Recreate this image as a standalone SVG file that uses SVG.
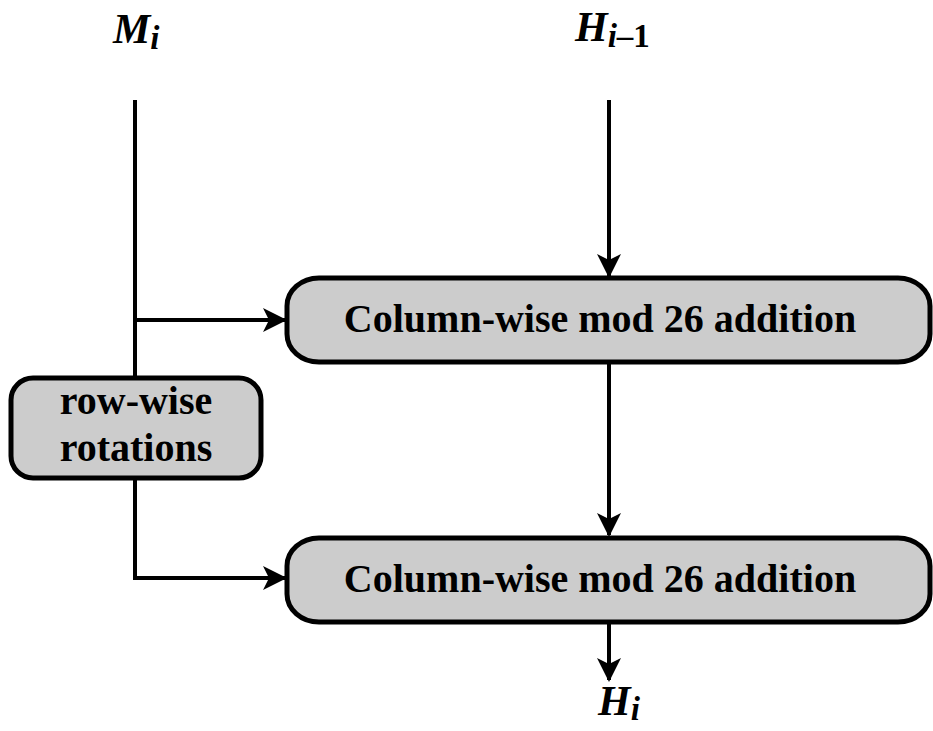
<svg xmlns="http://www.w3.org/2000/svg" width="933" height="731" viewBox="0 0 933 731">
<style>
.box{fill:#cccccc;stroke:#000;stroke-width:5}
.t{font-family:"Liberation Serif","Times New Roman",serif;font-weight:bold;font-size:40px;fill:#000;text-anchor:middle}
.m{font-family:"Liberation Serif","Times New Roman",serif;font-weight:bold;font-style:italic;font-size:42px;fill:#000}
.s{font-size:33px}
.ln{stroke:#000;stroke-width:4;fill:none}
</style>
<defs>
<marker id="ah" markerWidth="24" markerHeight="24" viewBox="0 0 24 24" refX="22" refY="12" orient="auto" markerUnits="userSpaceOnUse">
<path d="M0,0 L24,12 L0,24 L6,12 Z" fill="#000"/>
</marker>
</defs>
<g id="labels">
<text class="m" x="113" y="43">M<tspan class="s" dy="6">i</tspan></text>
<text class="m" x="575" y="41">H<tspan class="s" dy="6">i</tspan><tspan class="s" font-style="normal">–1</tspan></text>
<text class="m" x="598" y="715">H<tspan class="s" dy="5">i</tspan></text>
</g>
<g id="connectors">
<path class="ln" d="M135,100 V378"/>
<path class="ln" d="M135,478 V578 H285" marker-end="url(#ah)"/>
<path class="ln" d="M135,320 H285" marker-end="url(#ah)"/>
<path class="ln" d="M609,100 V276" marker-end="url(#ah)"/>
<path class="ln" d="M609,362 V535" marker-end="url(#ah)"/>
<path class="ln" d="M609,622 V680" marker-end="url(#ah)"/>
</g>
<g id="add1">
<rect class="box" x="287" y="278" width="643" height="84" rx="32" ry="28"/>
<text class="t" x="600" y="332">Column-wise mod 26 addition</text>
</g>
<g id="add2">
<rect class="box" x="287" y="538" width="643" height="84" rx="32" ry="28"/>
<text class="t" x="600" y="592">Column-wise mod 26 addition</text>
</g>
<g id="rot">
<rect class="box" x="11" y="378" width="250" height="100" rx="22" ry="22"/>
<text class="t" x="136" y="414">row-wise</text>
<text class="t" x="136" y="461">rotations</text>
</g>
</svg>
